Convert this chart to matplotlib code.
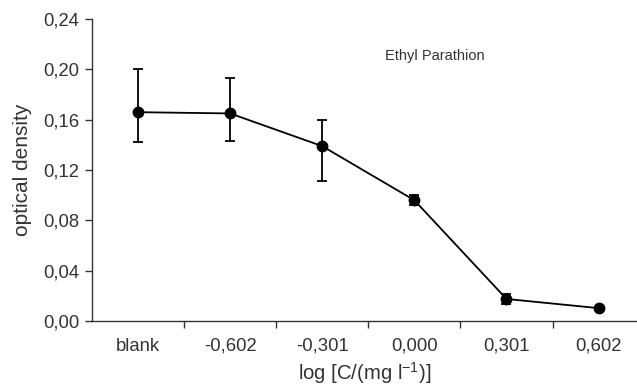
import matplotlib
matplotlib.use('Agg')
import matplotlib.pyplot as plt
import numpy as np

plt.rcParams['font.family'] = ['Liberation Sans', 'DejaVu Sans']

# datos
categorias = ['blank', '-0,602', '-0,301', '0,000', '0,301', '0,602']
densidad = [0.166, 0.165, 0.139, 0.096, 0.0175, 0.0102]
error_sup = [0.034, 0.028, 0.021, 0.004, 0.004, 0.0]
error_inf = [0.024, 0.022, 0.028, 0.004, 0.004, 0.0]
yticks = [0.00, 0.04, 0.08, 0.12, 0.16, 0.20, 0.24]
ytick_labels = ['0,00', '0,04', '0,08', '0,12', '0,16', '0,20', '0,24']

fig = plt.figure(figsize=(6.37, 3.9), dpi=100)
ax = fig.add_axes([0.1444, 0.177, 0.856, 0.774])

x = np.arange(len(categorias))
ax.errorbar(x, densidad, yerr=[error_inf, error_sup], color='black', marker='o',
            markersize=7.5, linewidth=1.3, elinewidth=1.3, capsize=3.5, capthick=1.3)

ax.set_xlim(-0.5, 5.42)
ax.set_ylim(0, 0.24)
ax.set_yticks(yticks)
ax.set_yticklabels(ytick_labels, fontsize=13.3, color='#333333')
ax.set_xticks(x)
ax.set_xticklabels(categorias, fontsize=13.3, color='#333333')
ax.tick_params(axis='x', length=0, pad=12)
ax.set_xticks(np.arange(0.5, 5.0, 1.0), minor=True)
ax.tick_params(axis='x', which='minor', length=5, width=1, color='#333333', direction='out')
ax.tick_params(axis='y', length=5, width=1, color='#333333', direction='out', pad=4)

for lado in ['top', 'right']:
    ax.spines[lado].set_visible(False)
for lado in ['left', 'bottom']:
    ax.spines[lado].set_color('#333333')
    ax.spines[lado].set_linewidth(1)

ax.set_ylabel('optical density', fontsize=15, color='#333333', labelpad=8)
ax.set_xlabel('log [C/(mg l$^{\\mathregular{-1}}$)]', fontsize=14.6, color='#333333', labelpad=4)
ax.text(2.68, 0.2106, 'Ethyl Parathion', fontsize=10.5, color='#333333', va='center')

fig.savefig('out.png', dpi=100)
